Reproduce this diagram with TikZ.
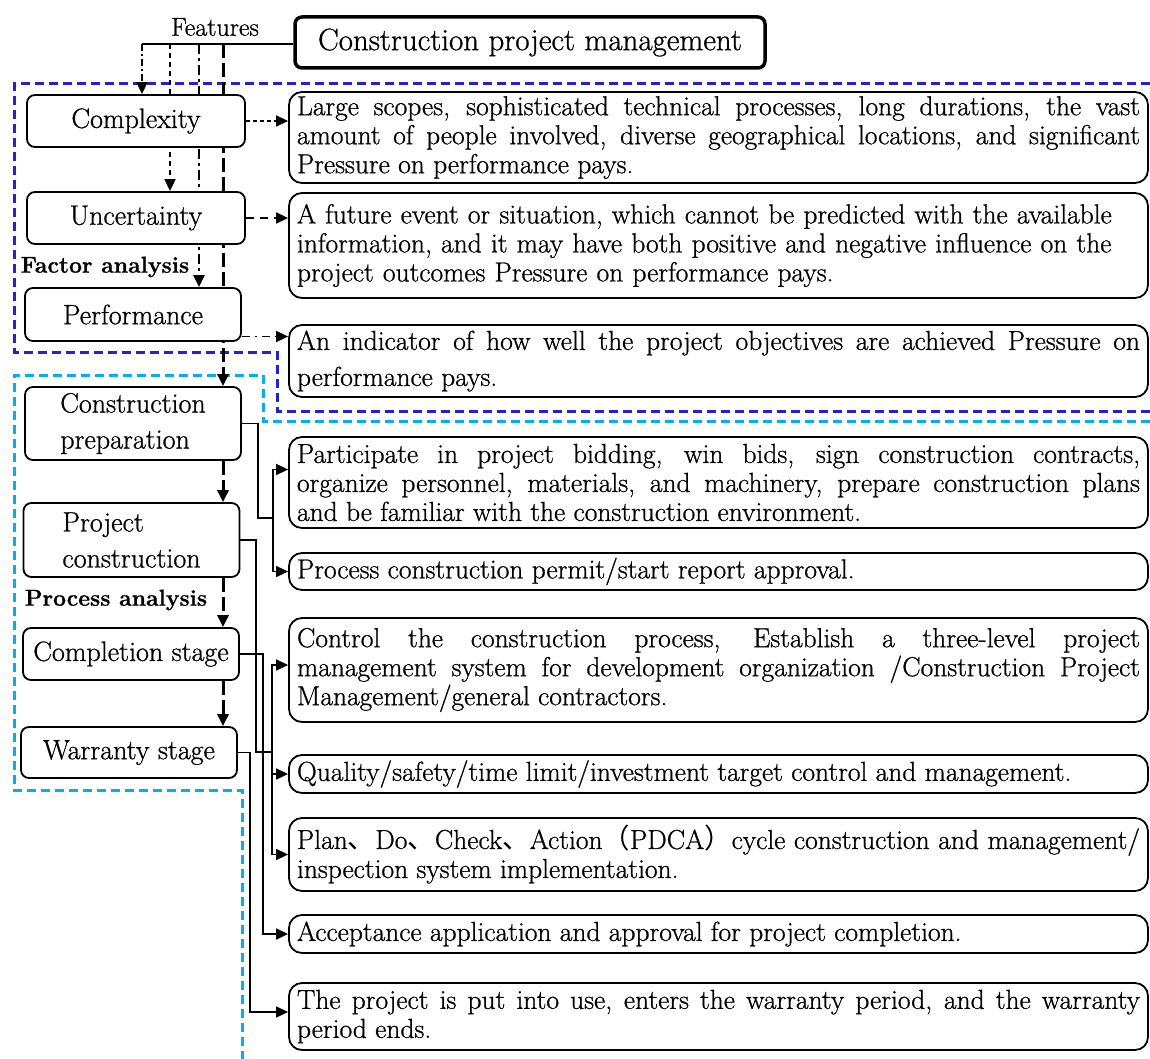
\documentclass[tikz,border=0pt]{standalone}
\usepackage{fontspec}
\setmainfont{Latin Modern Roman}[FakeBold=0.8]
\newfontfamily\cjkfont{Noto Sans CJK SC}
\usetikzlibrary{arrows.meta,backgrounds}
\definecolor{factorblue}{RGB}{35,35,205}
\definecolor{processblue}{RGB}{0,176,240}
\setlength{\parindent}{0pt}

\begin{document}
\begin{tikzpicture}[x=1pt,y=1pt,
    stagebox/.style={draw,rounded corners=8pt,line width=1.8pt,fill=white,minimum width=216pt,minimum height=52pt,inner sep=2pt,font=\fontsize{28}{36}\selectfont},
    descbox/.style={draw,rounded corners=13pt,line width=1.8pt,fill=white,minimum width=859pt,text width=843pt,inner xsep=7pt,inner ysep=2pt,align=justify,font=\fontsize{27.5}{29}\selectfont},
    sidelabel/.style={font=\bfseries\fontsize{23}{26}\selectfont},
    conn/.style={line width=1.6pt},
    tipped/.style={-{Triangle[length=12pt,width=11pt]}},
    stageflow/.style={line width=3pt,dash pattern=on 14pt off 5pt,tipped},
    zoneline/.style={line width=3pt,dash pattern=on 9pt off 5pt}]
    \useasboundingbox (0,0) rectangle (1150,-1059);
    \node[draw,rounded corners=7pt,line width=3.5pt,minimum width=470pt,minimum height=51pt,font=\fontsize{31}{34}\selectfont] (title) at (530,-42.5) {Construction project management};
    \node[font=\fontsize{26}{30}\selectfont,inner sep=1pt] (feat) at (215,-27) {Features};
    \node[stagebox,minimum width=218pt] (cplx) at (136,-121) {Complexity};
    \node[stagebox,minimum width=218pt] (unc) at (136,-218) {Uncertainty};
    \node[stagebox,minimum height=53pt] (perf) at (133,-314.5) {Performance};
    \node[stagebox,minimum height=73pt,align=left] (prep) at (133,-423.5) {Construction\\preparation};
    \node[stagebox,minimum height=74pt,align=left] (proj) at (131.5,-540) {Project\\construction};
    \node[stagebox] (comp) at (131,-654) {Completion stage};
    \node[stagebox,minimum height=51pt] (warr) at (129,-752.5) {Warranty stage};
    \node[sidelabel] (factor) at (105,-267) {Factor analysis};
    \node[sidelabel] (process) at (116,-600) {Process analysis};
    \node[descbox,minimum height=91pt] (dscope) at (718.5,-137.5) {Large scopes, sophisticated technical processes, long durations, the vast\linebreak amount of people involved, diverse geographical locations, and significant\linebreak Pressure on performance pays.};
    \node[descbox,minimum height=105pt,align=left] (dfut) at (718.5,-245.5) {A future event or situation, which cannot be predicted with the available\\information, and it may have both positive and negative influence on the\\project outcomes Pressure on performance pays.};
    \node[descbox,minimum height=72pt,font=\fontsize{27.5}{36}\selectfont] (dind) at (718.5,-361) {An indicator of how well the project objectives are achieved Pressure on\linebreak performance pays.};
    \node[descbox,minimum height=91pt] (dpart) at (718.5,-482.5) {Participate in project bidding, win bids, sign construction contracts,\linebreak organize personnel, materials, and machinery, prepare construction plans\linebreak and be familiar with the construction environment.};
    \node[descbox,minimum height=37pt] (dperm) at (718.5,-571.5) {Process construction permit/start report approval.};
    \node[descbox,minimum height=104pt] (dctrl) at (718.5,-670) {Control the construction process, Establish a three-level project\linebreak management system for development organization /Construction Project\linebreak Management/general contractors.};
    \node[descbox,minimum height=38pt] (dqual) at (718.5,-774) {Quality/safety/time limit/investment target control and management.};
    \node[descbox,minimum height=73pt] (dplan) at (718.5,-854.5) {Plan{\cjkfont 、}Do{\cjkfont 、}Check{\cjkfont 、}Action{\cjkfont （}PDCA{\cjkfont ）}cycle construction and management/\linebreak inspection system implementation.};
    \node[descbox,minimum height=38pt] (dacc) at (718.5,-934) {Acceptance application and approval for project completion.};
    \node[descbox,minimum height=67pt] (duse) at (718.5,-1016.5) {The project is put into use, enters the warranty period, and the warranty\linebreak period ends.};
    \begin{scope}[on background layer]
        \draw[zoneline,factorblue] (1150,-84) -- (14,-84) -- (14,-352) -- (277,-352) -- (277,-411) -- (1150,-411);
        \draw[zoneline,processblue] (1150,-421) -- (263,-421) -- (263,-375) -- (14,-375) -- (14,-790) -- (242,-790) -- (242,-1059);
        \coordinate (f1) at (142,-44);
        \coordinate (f2) at (170,-44);
        \coordinate (f3) at (199,-44);
        \coordinate (f4) at (223,-44);
        \draw[conn] (title.west |- f1) -- (f1);
        \draw[line width=1.8pt,dash pattern=on 7pt off 3pt on 2pt off 3pt,tipped] (f1) -- (f1 |- cplx.north);
        \draw[line width=1.8pt,dash pattern=on 5pt off 4pt,tipped] (f2) -- (f2 |- unc.north);
        \draw[line width=2.4pt,dash pattern=on 10pt off 4pt on 3pt off 4pt,tipped] (f3) -- (f3 |- perf.north);
        \draw[stageflow] (f4) -- (f4 |- prep.north);
        \draw[stageflow] (f4 |- prep.south) -- (f4 |- proj.north);
        \draw[stageflow] (f4 |- proj.south) -- (f4 |- comp.north);
        \draw[stageflow] (f4 |- comp.south) -- (f4 |- warr.north);
        \draw[conn,dash pattern=on 4pt off 3pt,tipped] (cplx.east) -- (dscope.west |- cplx.east);
        \draw[conn,dash pattern=on 8pt off 6pt,tipped] (unc.east) -- (dfut.west |- unc.east);
        \coordinate (p1) at ([yshift=-22pt]perf.east);
        \draw[conn,dash pattern=on 8pt off 5pt on 2pt off 5pt,tipped] (p1) -- (dind.west |- p1);
        \coordinate (j1) at (273,-518);
        \draw[conn] (prep.east) -| ([xshift=-15pt]j1) -- (j1);
        \draw[conn,tipped] (j1) |- ([yshift=13pt]dpart.west);
        \draw[conn,tipped] (j1) |- (dperm.west);
        \coordinate (j2) at (272,-752);
        \draw[conn] (proj.east) -| ([xshift=-16pt]j2) -- (j2);
        \draw[conn,tipped] (j2) |- ([yshift=5pt]dctrl.west);
        \draw[conn,tipped] (j2) |- (dqual.west);
        \draw[conn,tipped] (j2) |- (dplan.west);
        \coordinate (j3) at (263,-934);
        \draw[conn,tipped] (comp.east) -| (j3) -- (dacc.west);
        \coordinate (j4) at (250,-1012);
        \draw[conn,tipped] (warr.east) -| (j4) -- (duse.west |- j4);
    \end{scope}
\end{tikzpicture}
\end{document}
